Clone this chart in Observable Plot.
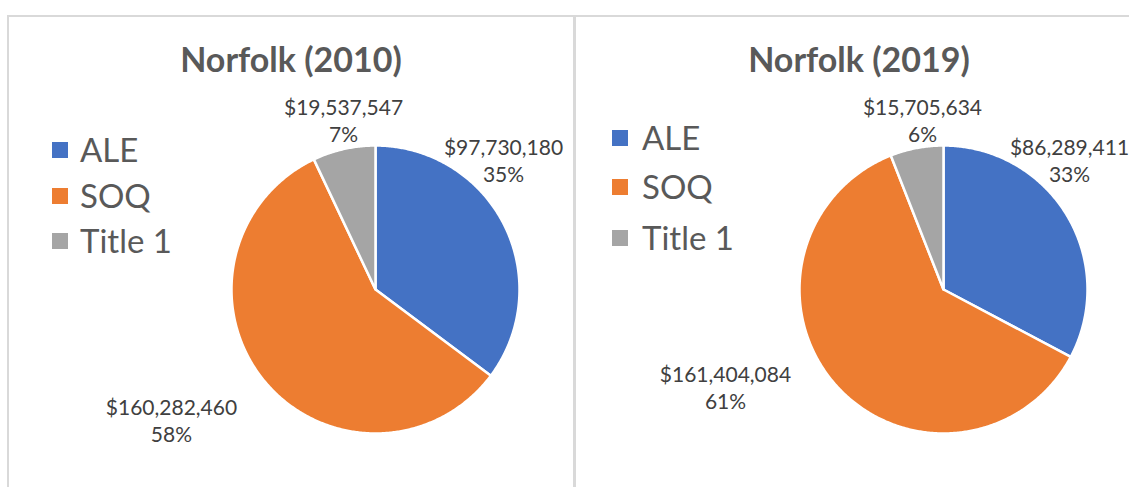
<!DOCTYPE html>
<html>
<head>
<meta charset="utf-8">
<script src="https://cdn.jsdelivr.net/npm/d3@7"></script>
<script src="https://cdn.jsdelivr.net/npm/@observablehq/plot@0.6"></script>
<style>
  html, body { margin: 0; padding: 0; background: #fff; }
  body { width: 1129px; height: 487px; overflow: hidden; position: relative; font-family: Lato, "DejaVu Sans", sans-serif; }
  .panel { position: absolute; top: 0; width: 566px; height: 487px; }
  .title { position: absolute; left: 0; width: 566px; text-align: center; font-weight: bold; color: #595959; font-size: 34px; line-height: 34px; white-space: nowrap; }
  .leg-sq { position: absolute; width: 16px; height: 16px; }
  .leg-tx { position: absolute; color: #595959; font-size: 33px; line-height: 33px; white-space: nowrap; }
  .line { position: absolute; background: #d9d9d9; z-index: 5; }
</style>
</head>
<body>
<div class="line" style="left:7px; top:15px; width:1130px; height:2px;"></div>
<div class="line" style="left:7px; top:15px; width:2px; height:480px;"></div>
<div class="line" style="left:573px; top:15px; width:3px; height:480px;"></div>
<script>
// ---- data ----
const categories = ["ALE", "SOQ", "Title 1"];
const colors = ["#4472C4", "#ED7D31", "#A5A5A5"];
const years = ["2010", "2019"];
const titles = ["Norfolk (2010)", "Norfolk (2019)"];
const values2010 = [97730180, 160282460, 19537547];
const values2019 = [86289411, 161404084, 15705634];

// ---- layout (not data) ----
const R = 144;               // pie radius in px
const panelW = 566, panelH = 487;
const cxLocal = 367, cyLocal = 289;
const panelLeft = [8, 576];
// label anchors, in pie-radius units relative to centre (x right, y up)
const labelLayout = [
  [[0.889, 0.903], [-1.417, -0.903], [-0.222, 1.181]],
  [[0.875, 0.903], [-1.514, -0.674], [-0.146, 1.181]]
];
const legendLayout = [
  {sqX: 44, txX: 72, rows: [150, 196, 241]},
  {sqX: 36, txX: 66, rows: [138, 187, 238]}
];

const fmtMoney = d3.format("$,");
const fmtPct = d3.format(".0%");

function slicesFor(values, li) {
  const total = d3.sum(values);
  const pts = [];
  const labels = [];
  let acc = 0;
  values.forEach((v, i) => {
    const a0 = acc / total * 2 * Math.PI;
    acc += v;
    const a1 = acc / total * 2 * Math.PI;
    const n = Math.max(2, Math.ceil((a1 - a0) / (Math.PI / 360)));
    pts.push({cat: categories[i], x: 0, y: 0});
    for (let k = 0; k <= n; k++) {
      const t = a0 + (a1 - a0) * k / n;
      pts.push({cat: categories[i], x: Math.sin(t), y: Math.cos(t)});
    }
    labels.push({
      cat: categories[i],
      x: labelLayout[li][i][0],
      y: labelLayout[li][i][1],
      text: fmtMoney(v) + "\n" + fmtPct(v / total)
    });
  });
  return {pts, labels};
}

[values2010, values2019].forEach((values, li) => {
  const panel = document.createElement("div");
  panel.className = "panel";
  panel.style.left = panelLeft[li] + "px";
  document.body.appendChild(panel);

  const {pts, labels} = slicesFor(values, li);
  const chart = Plot.plot({
    width: panelW,
    height: panelH,
    margin: 0,
    style: {background: "transparent", overflow: "visible", fontFamily: "Lato, 'DejaVu Sans', sans-serif"},
    x: {domain: [-cxLocal / R, (panelW - cxLocal) / R], range: [0, panelW], axis: null},
    y: {domain: [-(panelH - cyLocal) / R, cyLocal / R], range: [panelH, 0], axis: null},
    color: {domain: categories, range: colors},
    marks: [
      Plot.line(pts, {x: "x", y: "y", z: "cat", fill: "cat", stroke: "white", strokeWidth: 2.5, curve: "linear-closed", strokeLinejoin: "round"}),
      Plot.text(labels, {x: "x", y: "y", text: "text", fill: "#404040", fontSize: 21, lineHeight: 1.3, textAnchor: "middle", lineAnchor: "middle"})
    ]
  });
  panel.appendChild(chart);

  const t = document.createElement("div");
  t.className = "title";
  t.textContent = titles[li];
  t.style.top = "42px";
  panel.appendChild(t);

  const L = legendLayout[li];
  categories.forEach((c, i) => {
    const sq = document.createElement("div");
    sq.className = "leg-sq";
    sq.style.background = colors[i];
    sq.style.left = L.sqX + "px";
    sq.style.top = (L.rows[i] - 8) + "px";
    panel.appendChild(sq);
    const tx = document.createElement("div");
    tx.className = "leg-tx";
    tx.textContent = c;
    tx.style.left = L.txX + "px";
    tx.style.top = (L.rows[i] - 17) + "px";
    panel.appendChild(tx);
  });
});
</script>
</body>
</html>
